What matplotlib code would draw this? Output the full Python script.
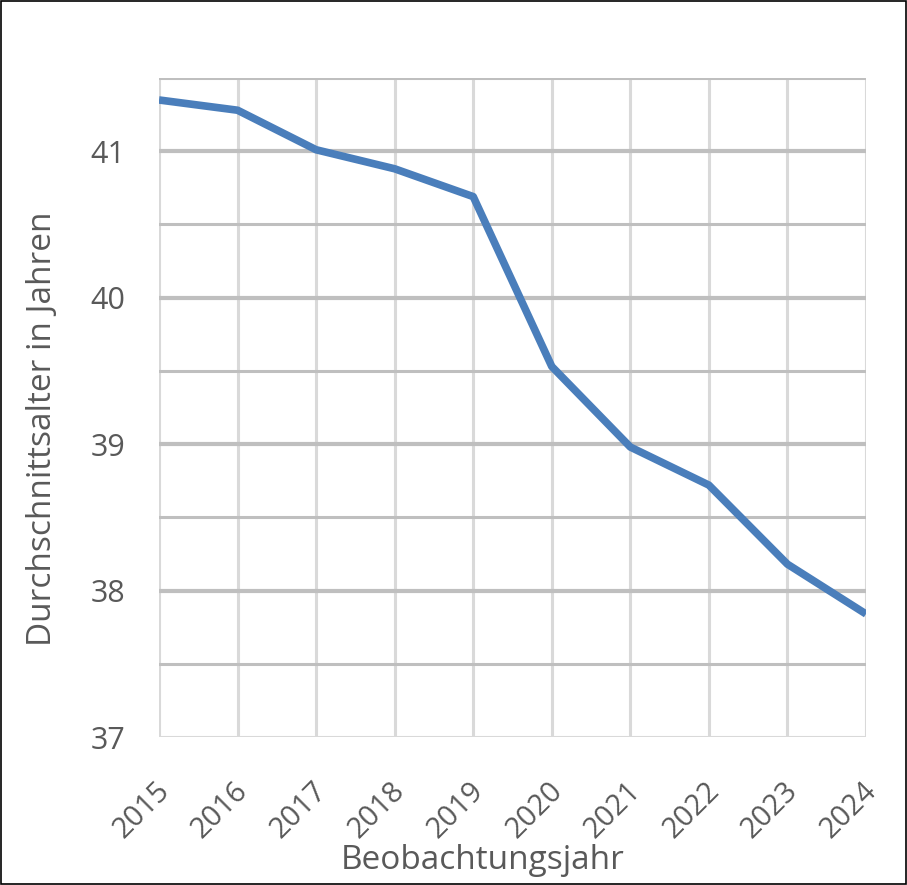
import matplotlib
matplotlib.use("Agg")
import matplotlib.pyplot as plt
import matplotlib.transforms as mtransforms
import numpy as np

years = [2015, 2016, 2017, 2018, 2019, 2020, 2021, 2022, 2023, 2024]
avg_age = [41.35, 41.28, 41.01, 40.88, 40.69, 39.53, 38.98, 38.72, 38.18, 37.84]
y_ticks = [37, 38, 39, 40, 41]

plt.rcParams['font.family'] = ['Open Sans', 'DejaVu Sans']
text_col = '#595959'

fig = plt.figure(figsize=(9.07, 8.85), dpi=100)
ax = fig.add_axes([159/907, (885-737)/885, (866-159)/907, (737-78)/885])

x = np.arange(len(years))
ax.plot(x, avg_age, color='#4A7EBB', lw=5.5, solid_capstyle='butt', solid_joinstyle='round', zorder=5)

ax.set_xlim(0, len(years) - 1)
ax.set_ylim(37, 41.5)

# grid: integer lines darker, half steps and years lighter
for v in np.arange(37.5, 41.6, 0.5):
    major = float(v).is_integer()
    ax.axhline(v, color='#BFBFBF', lw=3.0 if major else 2.2, zorder=1)
for i in x:
    ax.axvline(i, color='#D9D9D9', lw=2.2, zorder=0)
ax.axhline(37, color='#D9D9D9', lw=2.2, zorder=2)

for s in ax.spines.values():
    s.set_visible(False)

ax.set_xticks(x)
ax.set_xticklabels([str(y) for y in years], rotation=45, ha='right', va='top',
                   rotation_mode='anchor', fontsize=21, color=text_col)
ax.set_yticks(y_ticks)
ax.set_yticklabels([str(t) for t in y_ticks], fontsize=22, color=text_col)
ax.tick_params(axis='both', length=0)
ax.tick_params(axis='x', pad=28)
ax.tick_params(axis='y', pad=24)
# nudge year labels a little to the left
shift = mtransforms.ScaledTranslation(-4/100, 0, fig.dpi_scale_trans)
for lbl in ax.get_xticklabels():
    lbl.set_transform(lbl.get_transform() + shift)

ax.set_xlabel('Beobachtungsjahr', fontsize=24, color=text_col)
ax.set_ylabel('Durchschnittsalter in Jahren', fontsize=24, color=text_col)
ax.xaxis.set_label_coords(0.458, -0.162)
ax.yaxis.set_label_coords(-0.141, 0.467)

# thin frame around the whole figure
fig.patches.append(plt.Rectangle((0.001, 0.001), 0.998, 0.998, transform=fig.transFigure,
                                 fill=False, edgecolor='black', lw=1.2))

fig.savefig('out.png', dpi=100)
